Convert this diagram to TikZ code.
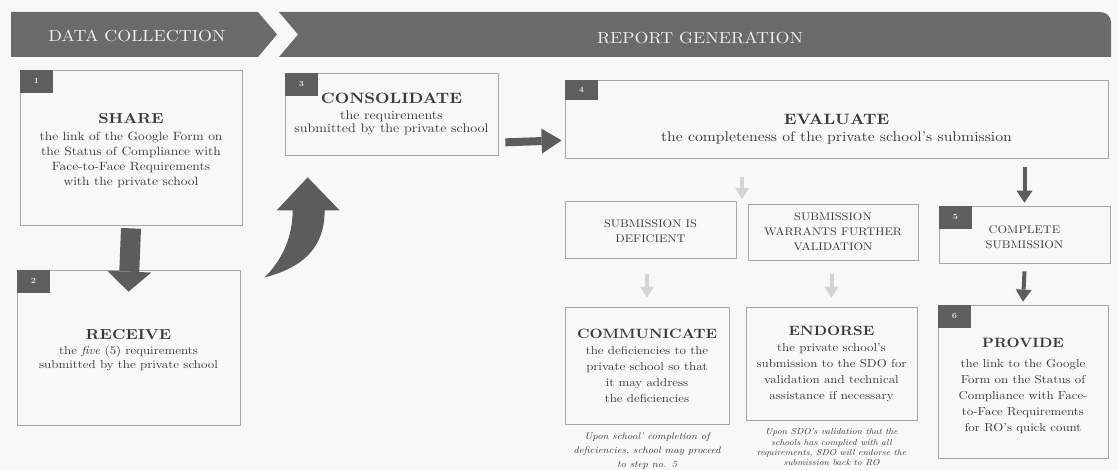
\documentclass[tikz,border=0pt]{standalone}
\usepackage{fontspec}
\setmainfont{lmroman10-regular.otf}[BoldFont=lmroman10-bold.otf, ItalicFont=lmroman10-italic.otf, BoldItalicFont=lmroman10-bolditalic.otf, FakeStretch=1.12]
\usetikzlibrary{arrows.meta,calc}
\definecolor{bandgray}{HTML}{6A6A6A}
\definecolor{badgegray}{HTML}{5E5E5E}
\definecolor{boxline}{HTML}{A6A6A6}
\definecolor{txt}{HTML}{3A3A3A}
\definecolor{arrowdark}{HTML}{5C5C5C}
\definecolor{arrowfaint}{HTML}{D4D4D4}
\definecolor{bg}{HTML}{F8F8F8}
\newcommand\ttlfont[1]{\fontsize{#1}{#1}\selectfont\bfseries}
\begin{document}
\begin{tikzpicture}[x=1pt,y=-1pt,
  box/.style={draw=boxline, line width=0.7pt, inner sep=2pt, align=center, text=txt},
  badge/.style={fill=badgegray, minimum width=33pt, minimum height=23pt, inner sep=0pt,
    text=white!80!gray, font=\bfseries\fontsize{8}{8}\selectfont, anchor=north west},
  bandtext/.style={text=white!88!gray, font=\fontsize{16}{16}\selectfont, inner sep=0pt},
  capsbox/.style={box, font=\fontsize{11}{15}\selectfont},
  note/.style={align=center, text=txt, inner sep=0pt, font=\itshape\fontsize{9.5}{14}\selectfont},
  bigarrow/.style={draw=arrowdark, line width=20pt, -{Triangle[width=44pt,length=20pt,line width=0pt]}},
  medarrow/.style={draw=arrowdark, line width=8pt, -{Triangle[width=25pt,length=20pt,line width=0pt]}},
  smallarrow/.style={draw=arrowdark, line width=4pt, -{Triangle[width=16pt,length=12pt,line width=0pt]}},
  faintarrow/.style={draw=arrowfaint, line width=4pt, -{Triangle[width=14pt,length=11pt,line width=0pt]}}
]
\useasboundingbox[fill=bg] (0,0) rectangle (1119,470);

% banner
\fill[bandgray] (11,12) -- (258,12) -- (277,34.5) -- (258,57) -- (11,57) -- cycle;
\fill[bandgray] (279,12) -- (1100,12) to[out=0,in=90] (1111,22) -- (1111,57) -- (279,57) -- (298,34.5) -- cycle;
\node[bandtext] (dc) at (137,36) {DATA COLLECTION};
\node[bandtext] (rg) at (700,38) {REPORT GENERATION};

% boxes
\node[box, minimum width=222pt, minimum height=155pt, font=\fontsize{12}{15}\selectfont] (n1) at (131,147.5)
  {\rule{0pt}{16pt}{\ttlfont{14.5}SHARE}\\[2pt] the link of the Google Form on\\ the Status of Compliance with\\ Face-to-Face Requirements\\ with the private school};
\node[box, minimum width=223pt, minimum height=155pt, font=\fontsize{11.5}{14}\selectfont] (n2) at (128.5,347.5)
  {\rule{0pt}{15pt}{\ttlfont{14.5}RECEIVE}\\[1pt] the \textit{five} (5) requirements\\ submitted by the private school};
\node[box, minimum width=213pt, minimum height=82pt, font=\fontsize{12.5}{13}\selectfont] (n3) at (391.5,114)
  {{\ttlfont{15}CONSOLIDATE}\\[3pt] the requirements\\ submitted by the private school};
\node[box, minimum width=543pt, minimum height=78pt, font=\fontsize{14}{15}\selectfont] (n4) at (836.5,119)
  {\rule{0pt}{30pt}{\ttlfont{15}EVALUATE}\\[2pt] the completeness of the private school's submission};
\node[capsbox, minimum width=171pt, minimum height=57pt] (nD) at (650.5,229.5)
  {\rule{0pt}{12pt}SUBMISSION IS\\ DEFICIENT};
\node[capsbox, minimum width=170pt, minimum height=56pt] (nW) at (833,232)
  {SUBMISSION\\ WARRANTS FURTHER\\ VALIDATION};
\node[capsbox, minimum width=171pt, minimum height=57pt] (n5) at (1024.5,234.5)
  {\rule{0pt}{13pt}COMPLETE\\ SUBMISSION};
\node[box, minimum width=164pt, minimum height=117pt, font=\fontsize{11.5}{16}\selectfont] (nC) at (647,365.5)
  {{\ttlfont{13.5}COMMUNICATE}\\ the deficiencies to the\\ private school so that\\ it may address\\ the deficiencies};
\node[box, minimum width=171pt, minimum height=113pt, font=\fontsize{11.5}{16}\selectfont] (nE) at (831.5,363.5)
  {{\ttlfont{13.5}ENDORSE}\\ the private school's\\ submission to the SDO for\\ validation and technical\\ assistance if necessary};
\node[box, minimum width=170pt, minimum height=153pt, font=\fontsize{11.5}{16}\selectfont] (n6) at (1023,381.5)
  {\rule{0pt}{18pt}{\ttlfont{13.5}PROVIDE}\\[4pt] the link to the Google\\ Form on the Status of\\ Compliance with Face-\\ to-Face Requirements\\ for RO's quick count};

% badges
\node[badge] (b1) at (n1.north west) {1};
\node[badge] (b2) at (n2.north west) {2};
\node[badge] (b3) at (n3.north west) {3};
\node[badge, minimum height=20pt] (b4) at (n4.north west) {4};
\node[badge] (b5) at (n5.north west) {5};
\node[badge] (b6) at (n6.north west) {6};

% notes
\node[note, anchor=north] (cn) at ($(nC.south)+(0,8)$)
  {Upon school' completion of\\ deficiencies, school may proceed\\ to step no. 5};
\node[note, anchor=north, font=\itshape\fontsize{8.6}{10.4}\selectfont] (en) at ($(nE.south)+(0,8)$)
  {Upon SDO's validation that the\\ schools has complied with all\\ requirements, SDO will endorse the\\ submission back to RO};

% connectors
\draw[bigarrow] ($(n1.south)+(0,3)$) -- ($(n2.north)+(0,22)$);
\draw[medarrow] ($(n3.south east)+(7,-13)$) -- ($(n4.south west)+(-3,-18)$);
\coordinate (ch) at ($(n3.south west)+(23,22)$);
\begin{scope}[shift={(ch)}]
  \fill[arrowdark] (-43,100) .. controls (-28,85) and (-15,63) .. (-15,33) -- (-31,33) -- (0,0)
    -- (32,33) -- (17,33) .. controls (17,73) and (-8,91) .. (-43,100) -- cycle;
\end{scope}
\draw[smallarrow] ($(n4.south -| n5.north)+(0,9)$) -- ($(n5.north)+(0,-3)$);
\draw[smallarrow] ($(n5.south)+(0,8)$) -- ($(n6.north)+(0,-3)$);
\coordinate (mid) at ($(nD.north east)!0.5!(nW.north west)$);
\draw[faintarrow] ($(n4.south -| mid)+(0,19)$) -- ($(mid)+(0,-3)$);
\draw[faintarrow] ($(nD.south -| nC.north)+(0,16)$) -- ($(nC.north)+(0,-9)$);
\draw[faintarrow] ($(nW.south -| nE.north)+(0,14)$) -- ($(nE.north)+(0,-9)$);
\end{tikzpicture}
\end{document}
